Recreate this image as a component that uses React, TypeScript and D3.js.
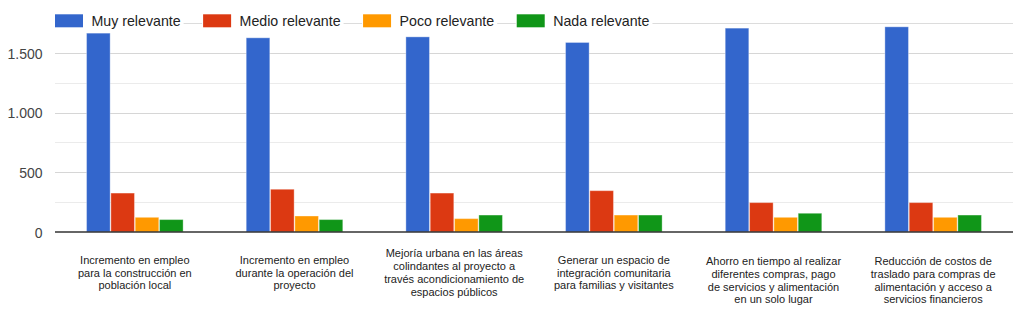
import React, { useEffect, useRef } from "react";
import * as d3 from "d3";

const categories: string[][] = [
  ["Incremento en empleo", "para la construcción en", "población local"],
  ["Incremento en empleo", "durante la operación del", "proyecto"],
  ["Mejoría urbana en las áreas", "colindantes al proyecto a", "través acondicionamiento de", "espacios públicos"],
  ["Generar un espacio de", "integración comunitaria", "para familias y visitantes"],
  ["Ahorro en tiempo al realizar", "diferentes compras, pago", "de servicios y alimentación", "en un solo lugar"],
  ["Reducción de costos de", "traslado para compras de", "alimentación y acceso a", "servicios financieros"],
];

const seriesNames = ["Muy relevante", "Medio relevante", "Poco relevante", "Nada relevante"];
const muyRelevante = [1665, 1626, 1634, 1587, 1707, 1718];
const medioRelevante = [326, 358, 326, 346, 246, 246];
const pocoRelevante = [123, 134, 112, 142, 123, 123];
const nadaRelevante = [104, 104, 142, 142, 157, 142];
const seriesValues = [muyRelevante, medioRelevante, pocoRelevante, nadaRelevante];
const colors = ["#3366cc", "#dc3912", "#ff9900", "#109618"];

const majorTicks = [0, 500, 1000, 1500];
const minorTicks = [250, 750, 1250, 1750];
const yTickLabels = ["0", "500", "1.000", "1.500"];

const W = 1024;
const H = 324;
const FONT = "'Liberation Sans', Arial, Helvetica, sans-serif";

export default function App() {
  const ref = useRef<SVGSVGElement | null>(null);

  useEffect(() => {
    const svg = d3.select(ref.current);
    svg.selectAll("*").remove();

    const left = 55;
    const right = 1013;
    const top = 23;
    const bottom = 232;

    const y = d3.scaleLinear().domain([0, 1750]).range([bottom, top]);
    const idx = categories.map((_, i) => String(i));
    const x0 = d3.scaleBand<string>().domain(idx).range([left, right]).paddingInner(0.386).paddingOuter(0.193);
    const x1 = d3.scaleBand<string>().domain(seriesNames).range([0, x0.bandwidth()]).padding(0.03);

    // gridlines
    svg.append("g")
      .selectAll("line.minor")
      .data(minorTicks)
      .join("line")
      .attr("x1", left).attr("x2", right)
      .attr("y1", (d) => Math.round(y(d)) + 0.5).attr("y2", (d) => Math.round(y(d)) + 0.5)
      .attr("stroke", (d) => (d === 1750 ? "#dcdcdc" : "#ebebeb"))
      .attr("stroke-width", 1);
    svg.append("g")
      .selectAll("line.major")
      .data(majorTicks.filter((d) => d !== 0))
      .join("line")
      .attr("x1", left).attr("x2", right)
      .attr("y1", (d) => Math.round(y(d)) + 0.5).attr("y2", (d) => Math.round(y(d)) + 0.5)
      .attr("stroke", "#d6d6d6")
      .attr("stroke-width", 1.2);

    // y labels
    svg.append("g")
      .selectAll("text")
      .data(majorTicks)
      .join("text")
      .attr("x", 42.5)
      .attr("y", (d) => y(d) + 0.8)
      .attr("dy", "0.36em")
      .attr("text-anchor", "end")
      .attr("font-family", FONT)
      .attr("font-size", 14)
      .attr("fill", "#444")
      .text((_, i) => yTickLabels[i]);

    // bars
    const g = svg.append("g");
    categories.forEach((_, ci) => {
      seriesNames.forEach((s, si) => {
        const v = seriesValues[si][ci];
        g.append("rect")
          .attr("x", (x0(String(ci)) as number) + (x1(s) as number))
          .attr("y", y(v))
          .attr("width", x1.bandwidth())
          .attr("height", y(0) - y(v))
          .attr("fill", colors[si])
          .attr("stroke", "#ffffff")
          .attr("stroke-opacity", 0.35)
          .attr("stroke-width", 1);
      });
    });

    // baseline
    svg.append("line")
      .attr("x1", left).attr("x2", right)
      .attr("y1", y(0)).attr("y2", y(0))
      .attr("stroke", "#333")
      .attr("stroke-width", 1.5);

    // x labels
    const lh = 12.8;
    const labelCenter = 272.8;
    categories.forEach((lines, ci) => {
      const cx = (x0(String(ci)) as number) + x0.bandwidth() / 2;
      const firstY = ci < 4 ? labelCenter - ((lines.length - 1) * lh) / 2 : 261.2;
      const t = svg.append("text")
        .attr("text-anchor", "middle")
        .attr("font-family", FONT)
        .attr("font-size", 11)
        .attr("fill", "#222");
      lines.forEach((ln, li) => {
        t.append("tspan")
          .attr("x", cx)
          .attr("y", firstY + li * lh)
          .attr("dy", "0.35em")
          .text(ln);
      });
    });

    // legend
    const lg = svg.append("g");
    let lx = left;
    const ly = 20.8;
    seriesNames.forEach((s, si) => {
      const item = lg.append("g");
      const bg = item.append("rect").attr("fill", "#fff");
      item.append("rect")
        .attr("x", lx).attr("y", 14.3)
        .attr("width", 28).attr("height", 13)
        .attr("fill", colors[si]);
      const txt = item.append("text")
        .attr("x", lx + 36.5)
        .attr("y", ly)
        .attr("dy", "0.35em")
        .attr("font-family", FONT)
        .attr("font-size", 14.2)
        .attr("fill", "#222")
        .text(s);
      const tw = (txt.node() as SVGTextElement).getComputedTextLength();
      bg.attr("x", lx - 1).attr("y", 12).attr("width", 36.5 + tw + 4).attr("height", 18);
      lx = lx + 36.5 + tw + 22.5;
    });
  }, []);

  return (
    <svg
      ref={ref}
      width={W}
      height={H}
      style={{ position: "absolute", left: 0, top: 0, background: "#fff" }}
    />
  );
}
